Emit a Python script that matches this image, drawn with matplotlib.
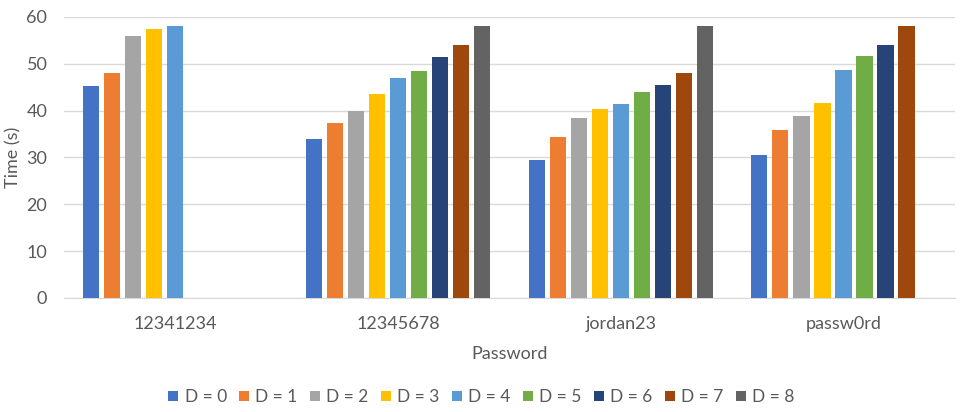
import numpy as np
import matplotlib
matplotlib.use("Agg")
import matplotlib.pyplot as plt

# data (None = no bar)
passwords = ["12341234", "12345678", "jordan23", "passw0rd"]
series_names = ["D = 0", "D = 1", "D = 2", "D = 3", "D = 4", "D = 5", "D = 6", "D = 7", "D = 8"]
d0 = [45.2, 33.9, 29.4, 30.5]
d1 = [48.0, 37.3, 34.3, 35.8]
d2 = [55.9, 39.9, 38.4, 38.8]
d3 = [57.4, 43.5, 40.3, 41.6]
d4 = [58.0, 46.9, 41.4, 48.6]
d5 = [None, 48.4, 43.9, 51.6]
d6 = [None, 51.4, 45.4, 53.9]
d7 = [None, 53.9, 48.0, 58.0]
d8 = [None, 58.0, 58.0, None]
series = [d0, d1, d2, d3, d4, d5, d6, d7, d8]

colors = ["#4472C4", "#ED7D31", "#A5A5A5", "#FFC000", "#5B9BD5",
          "#70AD47", "#264478", "#9E480E", "#636363"]

plt.rcParams['font.family'] = ['Lato', 'DejaVu Sans']
txt = "#595959"

fig = plt.figure(figsize=(9.63, 4.12), dpi=100)
ax = fig.add_axes([0.0665, 0.277, 0.925, 0.682])

x = np.arange(len(passwords))
slot = 0.85 / len(series)
for j, vals in enumerate(series):
    xs = [x[i] + (j - 4) * slot for i in range(len(vals)) if vals[i] is not None]
    hs = [v for v in vals if v is not None]
    ax.bar(xs, hs, width=slot * 0.77, color=colors[j], label=series_names[j], zorder=3)

ax.set_xlim(-0.5, len(passwords) - 0.5)
ax.set_ylim(0, 60)
ax.set_yticks(range(0, 61, 10))
ax.set_xticks(x)
ax.set_xticklabels(passwords)
ax.grid(axis='y', color="#d9d9d9", linewidth=1, zorder=0)
for s in ["top", "right", "left"]:
    ax.spines[s].set_visible(False)
ax.spines["bottom"].set_color("#d9d9d9")
ax.tick_params(length=0, labelsize=13, colors=txt, pad=13)
ax.tick_params(axis='y', pad=12)
ax.set_xlabel("Password", fontsize=13, color=txt, labelpad=10)
ax.set_ylabel("Time (s)", fontsize=13, color=txt, labelpad=4)

handles, labels = ax.get_legend_handles_labels()
fig.legend(handles, labels, loc="center", bbox_to_anchor=(0.5, 0.036), ncol=9, frameon=False,
           fontsize=12.5, labelcolor=txt, handlelength=0.58, handleheight=0.58,
           handletextpad=0.35, columnspacing=0.72)

fig.savefig("out.png", dpi=100)
